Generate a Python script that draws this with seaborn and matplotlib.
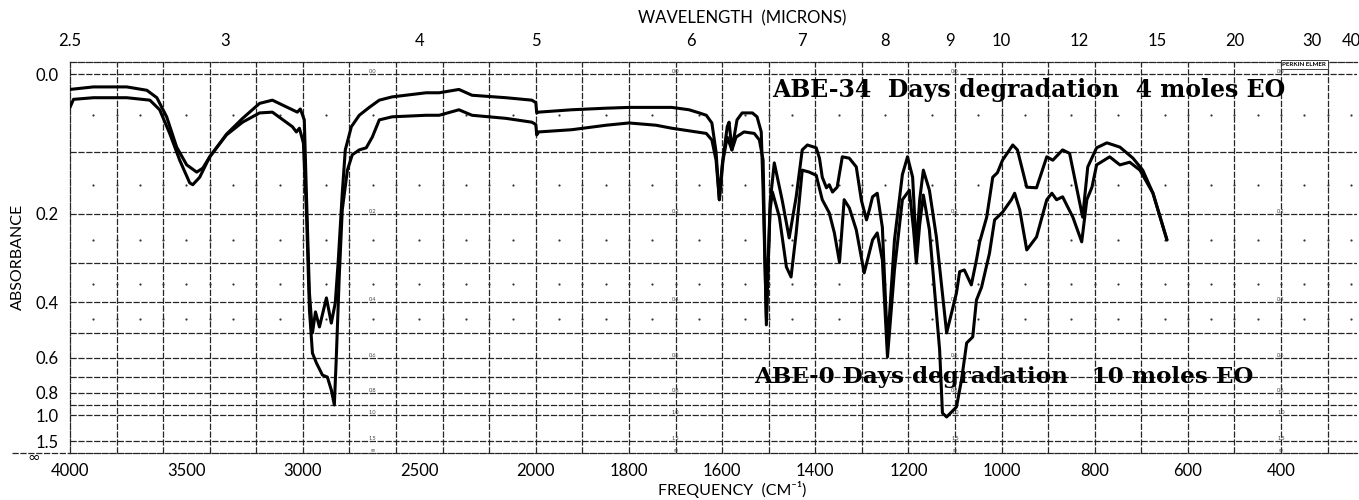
import numpy as np
import pandas as pd
import matplotlib
matplotlib.use("Agg")
import matplotlib.pyplot as plt
from matplotlib.lines import Line2D
from matplotlib.transforms import offset_copy
import seaborn as sns

# ---------------- spectra: wavenumber (cm-1) and absorbance ----------------
abe34_wn = [4000, 3900, 3756, 3670, 3627, 3585, 3542, 3499, 3456, 3430,
            3400, 3328, 3259, 3186, 3131, 3045, 3024, 3011, 2994, 2985,
            2972, 2959, 2946, 2929, 2899, 2878, 2861, 2848, 2831, 2818,
            2792, 2758, 2715, 2672, 2617, 2471, 2415, 2330, 2274, 2128,
            2017, 2000, 1998, 1994, 1923, 1849, 1800, 1742, 1708, 1671,
            1649, 1634, 1622, 1613, 1606, 1600, 1589, 1585, 1579, 1568,
            1557, 1535, 1525, 1516, 1512, 1508, 1505, 1501, 1497, 1488,
            1471, 1456, 1441, 1428, 1417, 1398, 1391, 1385, 1376, 1370,
            1363, 1353, 1342, 1327, 1312, 1301, 1290, 1284, 1277, 1267,
            1256, 1245, 1230, 1213, 1202, 1191, 1183, 1176, 1168, 1155,
            1140, 1127, 1118, 1097, 1090, 1080, 1065, 1054, 1047, 1032,
            1019, 1009, 998, 976, 966, 946, 925, 903, 890, 869,
            854, 826, 815, 796, 774, 746, 718, 697, 675, 645]
abe34_abs = [0.018, 0.015, 0.015, 0.019, 0.028, 0.052, 0.093, 0.119, 0.130, 0.124,
             0.107, 0.075, 0.054, 0.035, 0.031, 0.043, 0.046, 0.042, 0.056, 0.164,
             0.374, 0.499, 0.429, 0.478, 0.388, 0.465, 0.402, 0.293, 0.164, 0.097,
             0.065, 0.050, 0.040, 0.031, 0.027, 0.022, 0.022, 0.018, 0.025, 0.028,
             0.031, 0.034, 0.047, 0.046, 0.043, 0.041, 0.040, 0.040, 0.040, 0.043,
             0.047, 0.050, 0.060, 0.100, 0.175, 0.120, 0.065, 0.059, 0.097, 0.056,
             0.047, 0.047, 0.052, 0.072, 0.160, 0.300, 0.450, 0.300, 0.180, 0.116,
             0.176, 0.246, 0.170, 0.097, 0.090, 0.094, 0.109, 0.138, 0.155, 0.150,
             0.162, 0.154, 0.107, 0.109, 0.122, 0.176, 0.211, 0.193, 0.170, 0.164,
             0.225, 0.550, 0.250, 0.134, 0.107, 0.138, 0.271, 0.176, 0.127, 0.159,
             0.244, 0.375, 0.499, 0.375, 0.320, 0.316, 0.353, 0.293, 0.254, 0.206,
             0.138, 0.131, 0.112, 0.090, 0.097, 0.154, 0.155, 0.107, 0.112, 0.097,
             0.102, 0.206, 0.122, 0.094, 0.087, 0.093, 0.109, 0.127, 0.164, 0.250]

abe0_wn = [4000, 3985, 3900, 3756, 3657, 3615, 3572, 3529, 3486, 3473,
           3443, 3400, 3328, 3259, 3186, 3131, 3045, 3028, 3015, 2998,
           2985, 2972, 2959, 2942, 2916, 2895, 2878, 2865, 2857, 2844,
           2831, 2809, 2788, 2758, 2728, 2702, 2672, 2617, 2471, 2415,
           2330, 2274, 2128, 2017, 2000, 1998, 1994, 1923, 1849, 1800,
           1742, 1708, 1634, 1622, 1613, 1606, 1598, 1589, 1579, 1570,
           1553, 1531, 1520, 1512, 1508, 1505, 1501, 1497, 1492, 1477,
           1462, 1452, 1441, 1428, 1413, 1398, 1385, 1370, 1359, 1348,
           1338, 1327, 1312, 1295, 1277, 1267, 1256, 1245, 1230, 1213,
           1198, 1189, 1183, 1176, 1168, 1155, 1144, 1133, 1127, 1118,
           1097, 1086, 1075, 1062, 1054, 1043, 1026, 1015, 998, 979,
           972, 961, 946, 925, 903, 892, 882, 869, 847, 828,
           817, 806, 796, 768, 746, 725, 703, 675, 645]
abe0_abs = [0.040, 0.030, 0.028, 0.028, 0.031, 0.043, 0.074, 0.112, 0.147, 0.150,
            0.138, 0.107, 0.076, 0.059, 0.047, 0.046, 0.065, 0.072, 0.067, 0.087,
            0.193, 0.423, 0.579, 0.624, 0.687, 0.698, 0.779, 0.897, 0.610, 0.333,
            0.193, 0.127, 0.104, 0.097, 0.094, 0.079, 0.056, 0.052, 0.050, 0.050,
            0.043, 0.050, 0.054, 0.059, 0.062, 0.076, 0.072, 0.069, 0.063, 0.060,
            0.063, 0.067, 0.074, 0.083, 0.112, 0.175, 0.112, 0.079, 0.097, 0.079,
            0.072, 0.074, 0.083, 0.112, 0.293, 0.471, 0.293, 0.193, 0.162, 0.206,
            0.309, 0.333, 0.236, 0.127, 0.130, 0.135, 0.175, 0.198, 0.236, 0.298,
            0.175, 0.189, 0.230, 0.323, 0.250, 0.236, 0.293, 0.596, 0.316, 0.175,
            0.159, 0.230, 0.300, 0.221, 0.167, 0.230, 0.366, 0.566, 0.977, 1.022,
            0.916, 0.715, 0.537, 0.514, 0.394, 0.359, 0.278, 0.211, 0.197, 0.175,
            0.164, 0.193, 0.271, 0.244, 0.175, 0.164, 0.175, 0.170, 0.206, 0.254,
            0.175, 0.154, 0.119, 0.107, 0.119, 0.115, 0.127, 0.164, 0.250]

# ---------------- axis annotations ----------------
freq_ticks = [4000, 3500, 3000, 2500, 2000, 1800, 1600, 1400, 1200, 1000, 800, 600, 400]
freq_labels = [str(v) for v in freq_ticks]
wavelength_ticks = [2.5, 3, 4, 5, 6, 7, 8, 9, 10, 12, 15, 20, 30, 40]
wavelength_labels = ["2.5", "3", "4", "5", "6", "7", "8", "9", "10", "12", "15", "20", "30", "40"]
abs_ticks = [0.0, 0.2, 0.4, 0.6, 0.8, 1.0, 1.5]
abs_labels = ["0.0", "0.2", "0.4", "0.6", "0.8", "1.0", "1.5"]
abs_grid = [0.0, 0.1, 0.2, 0.3, 0.4, 0.5, 0.6, 0.7, 0.8, 0.9, 1.0, 1.5]
abs_dot_rows = [0.05, 0.15, 0.25, 0.35, 0.45]
scale_columns = [2700, 1700, 1100, 400]

ABS_INF = 12.0          # stands in for infinite absorbance (zero transmission)
ABS_TOP = -0.0136       # chart-paper margin above 0.0
WN_LEFT, WN_RIGHT = 4000, 237


# ---------------- chart-paper scales ----------------
def wn_fwd(f):
    """Wavenumber -> paper abscissa; region above 2000 cm-1 compressed 2:1."""
    f = np.asarray(f, dtype=float)
    return np.where(f < 2000, f, 2000 + (f - 2000) / 2.0)


def wn_inv(u):
    u = np.asarray(u, dtype=float)
    return np.where(u < 2000, u, 2000 + 2.0 * (u - 2000))


def abs_fwd(a):
    """Absorbance -> fraction of light absorbed (paper is linear in %T)."""
    a = np.asarray(a, dtype=float)
    return 1.0 - np.power(10.0, -a)


def abs_inv(t):
    t = np.clip(np.asarray(t, dtype=float), -1.0, 1.0 - 1e-12)
    return -np.log10(1.0 - t)


sns.set_style("white")
plt.rcParams["font.family"] = ["Lato", "DejaVu Sans"]
for key in ("text.color", "axes.labelcolor", "xtick.color", "ytick.color"):
    plt.rcParams[key] = "black"

W_PX, H_PX = 1359, 500
fig = plt.figure(figsize=(W_PX / 100, H_PX / 100), dpi=100)
ax = fig.add_axes([70 / W_PX, 47 / H_PX, (1357 - 70) / W_PX, (453 - 62) / H_PX])

ax.set_xscale("function", functions=(wn_fwd, wn_inv))
ax.set_yscale("function", functions=(abs_fwd, abs_inv))

df34 = pd.DataFrame({"wavenumber": abe34_wn, "absorbance": abe34_abs})
df0 = pd.DataFrame({"wavenumber": abe0_wn, "absorbance": abe0_abs})
for d in (df34, df0):
    sns.lineplot(data=d, x="wavenumber", y="absorbance", sort=False,
                 estimator=None, color="black", linewidth=2.2, ax=ax, zorder=5)

ax.set_xlim(WN_LEFT, WN_RIGHT)
ax.set_ylim(ABS_INF, ABS_TOP)

# ---------------- printed grid ----------------
grid_kw = dict(color="#262626", linewidth=0.9, linestyle=(0, (5, 1.3)), zorder=1)
for a in abs_grid:
    ax.axhline(a, **grid_kw)
x_grid = list(range(3800, 2000, -200)) + list(range(2000, 200, -100))
for f in x_grid:
    ax.axvline(f, **grid_kw)

dot_cols = list(range(3900, 2000, -100)) + list(range(1950, 240, -50))
gx, gy = np.meshgrid(dot_cols, abs_dot_rows)
ax.scatter(gx.ravel(), gy.ravel(), s=2.5, color="#333333", linewidths=0, zorder=2)

# small scale numbers printed along the paper
paper_levels = abs_ticks + [ABS_INF]
paper_labels = abs_labels + ["∞"]
for f in scale_columns:
    for a, lab in zip(paper_levels, paper_labels):
        ax.text(f, a, lab, fontsize=4, color="#444444", ha="center",
                va="bottom", zorder=3)

for side in ("left", "bottom", "top"):
    ax.spines[side].set_visible(True)
    ax.spines[side].set_color("#262626")
    ax.spines[side].set_linewidth(0.9)
    ax.spines[side].set_linestyle((0, (5, 1.3)))
ax.spines["right"].set_visible(False)
fig.add_artist(Line2D([12 / W_PX, 70 / W_PX], [47 / H_PX, 47 / H_PX],
                      color="#262626", linewidth=0.9, linestyle=(0, (5, 1.3))))

# ---------------- ticks and labels ----------------
ax.minorticks_off()
ax.set_xticks(freq_ticks)
ax.set_xticklabels(freq_labels)
ax.set_yticks(abs_ticks)
ax.set_yticklabels(abs_labels)
ax.tick_params(axis="x", length=0, pad=7, labelsize=12, labelcolor="black")
ax.tick_params(axis="y", length=0, pad=8, labelsize=12, labelcolor="black")
ax.set_xlabel("")
ax.set_ylabel("")

# infinity mark sits on the extended bottom rule, under "1.5"
inf_tr = offset_copy(ax.get_yaxis_transform(), fig=fig, x=-26, y=-3, units="points")
ax.text(0, ABS_INF, "∞", transform=inf_tr, ha="center", va="center",
        fontsize=11, color="black", family="DejaVu Sans")

top = ax.twiny()
top.set_xscale("function", functions=(wn_fwd, wn_inv))
top.set_xlim(ax.get_xlim())
top.minorticks_off()
top.set_xticks([1e4 / w for w in wavelength_ticks])
top.set_xticklabels(wavelength_labels)
top.tick_params(axis="x", length=0, pad=9, labelsize=12, labelcolor="black")
for s in top.spines.values():
    s.set_visible(False)

fig.text(742 / W_PX, 1 - 18 / H_PX, "WAVELENGTH  (MICRONS)", ha="center",
         va="center", fontsize=12)
fig.text(732 / W_PX, 1 - 490 / H_PX, "FREQUENCY  (CM⁻¹)", ha="center",
         va="center", fontsize=11.5)
fig.text(18 / W_PX, 1 - 257 / H_PX, "ABSORBANCE", ha="center", va="center",
         rotation=90, fontsize=11.5)

ax.text(1492, 0.019, "ABE-34  Days degradation  4 moles EO", ha="left",
        va="center", fontsize=17, fontweight="bold", family="DejaVu Serif",
        color="black", zorder=6)
ax.text(1531, 0.70, "ABE-0 Days degradation   10 moles EO", ha="left",
        va="center", fontsize=16.6, fontweight="bold", family="DejaVu Serif",
        color="black", zorder=6)
ax.text(350, ABS_TOP, "PERKIN ELMER", ha="center", va="top", fontsize=4.5,
        fontweight="bold", zorder=6,
        bbox=dict(boxstyle="square,pad=0.25", facecolor="white",
                  edgecolor="#262626", linewidth=0.6))

fig.savefig("out.png", dpi=100, facecolor="white")
